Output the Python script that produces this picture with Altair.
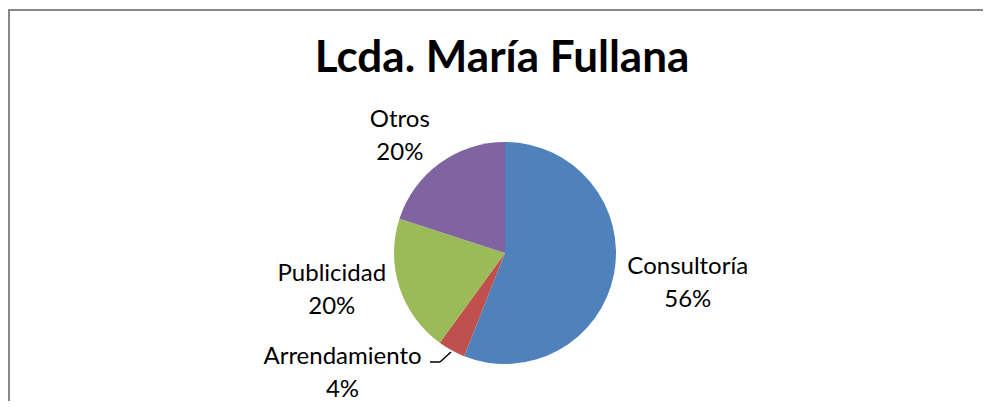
import altair as alt
import pandas as pd

# ---- data ----
categories = ["Consultoría", "Arrendamiento", "Publicidad", "Otros"]
values = [56, 4, 20, 20]
colors = ["#4F81BD", "#C0504D", "#9BBB59", "#8064A2"]
title_text = "Lcda. María Fullana"

df = pd.DataFrame({
    "cat": categories,
    "val": values,
    "idx": list(range(len(categories))),
})
TOTAL = sum(values)

FONT = "Lato"
W, H = 975, 393          # whole canvas (fits the window)
CX, CY = 497, 245        # pie centre inside the canvas
R = 111

base = alt.Chart(df).transform_window(
    cum="sum(val)", sort=[alt.SortField("idx")], frame=[None, 0]
).transform_calculate(
    start="datum.cum - datum.val",
    mid="datum.cum - datum.val / 2",
    label="datum.cat + '\\n' + format(datum.val / %d, '.0%%')" % TOTAL,
)

theta_scale = alt.Scale(domain=[0, TOTAL])
color = alt.Color("cat:N", scale=alt.Scale(domain=categories, range=colors), legend=None)

pie = base.mark_arc(outerRadius=R).encode(
    theta=alt.Theta("start:Q", scale=theta_scale),
    theta2="cum:Q",
    color=color,
    x=alt.value(CX),
    y=alt.value(CY),
)

# label placement styles (radius from pie centre, plus nudges) per category
label_style = {
    "Consultoría": dict(radius=184, dx=2, dy=-20),
    "Arrendamiento": dict(radius=138, dx=-96, dy=-17),
    "Publicidad": dict(radius=180, dx=-2, dy=-35),
    "Otros": dict(radius=150, dx=-17, dy=-12),
}

label_layers = []
for c in categories:
    s = label_style[c]
    label_layers.append(
        base.mark_text(
            radius=s["radius"], dx=s["dx"], dy=s["dy"],
            align="center", baseline="middle", lineBreak="\n",
            lineHeight=33, font=FONT, fontSize=24, color="#000000",
        ).encode(
            theta=alt.Theta("mid:Q", scale=theta_scale),
            text="label:N",
            x=alt.value(CX),
            y=alt.value(CY),
        ).transform_filter(alt.datum.cat == c)
    )

one = base.transform_filter(alt.datum.idx == 0)

# leader line for the small slice label
leader1 = one.mark_rule(color="#000000", strokeWidth=1.5).encode(
    x=alt.value(422), x2=alt.value(432), y=alt.value(354), y2=alt.value(354)
)
leader2 = one.mark_rule(color="#000000", strokeWidth=1.5).encode(
    x=alt.value(432), x2=alt.value(443), y=alt.value(354), y2=alt.value(344)
)

# chart frame: only the left and top edges are inside the window
frame_left = one.mark_rule(color="#878787", strokeWidth=2).encode(
    x=alt.value(1), x2=alt.value(1), y=alt.value(1), y2=alt.value(H)
)
frame_top = one.mark_rule(color="#878787", strokeWidth=2).encode(
    x=alt.value(0), x2=alt.value(W), y=alt.value(2), y2=alt.value(2)
)

title = one.mark_text(
    font=FONT, fontSize=44, fontWeight="bold", color="#000000",
    align="center", baseline="alphabetic",
).encode(
    x=alt.value(494), y=alt.value(64), text=alt.value(title_text)
)

chart = alt.layer(frame_left, frame_top, pie, *label_layers, leader1, leader2, title).properties(
    width=W,
    height=H,
    padding=0,
    autosize=alt.AutoSizeParams(type="none"),
).configure_view(
    stroke=None
)

chart.save("out.html", embed_options={"renderer": "svg", "actions": False})
